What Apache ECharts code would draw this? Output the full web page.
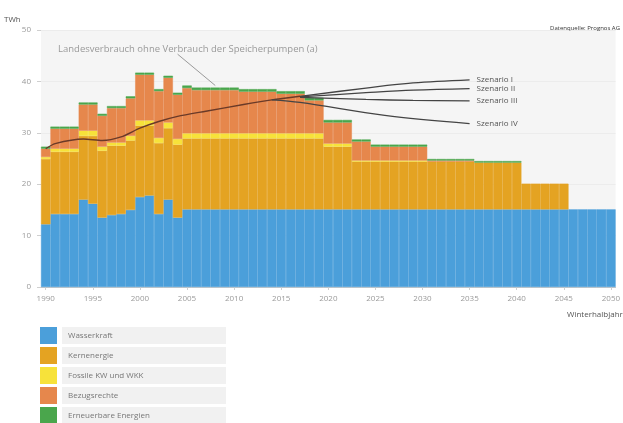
<!DOCTYPE html>
<html>
<head>
<meta charset="utf-8">
<script src="https://cdn.jsdelivr.net/npm/echarts@6/dist/echarts.min.js"></script>
<style>
  html, body { margin: 0; padding: 0; background: #fff; }
  #chart { width: 623px; height: 423px; }
</style>
</head>
<body>
<div id="chart"></div>
<script>
// Winterhalbjahr 1990 - 2050, one category per year
const years = [
  '1990','1991','1992','1993','1994','1995','1996','1997','1998','1999',
  '2000','2001','2002','2003','2004','2005','2006','2007','2008','2009',
  '2010','2011','2012','2013','2014','2015','2016','2017','2018','2019',
  '2020','2021','2022','2023','2024','2025','2026','2027','2028','2029',
  '2030','2031','2032','2033','2034','2035','2036','2037','2038','2039',
  '2040','2041','2042','2043','2044','2045','2046','2047','2048','2049',
  '2050'
];

// TWh per year (stacked)
const wasserkraft = [
  12.2, 14.2, 14.2, 14.2, 17.0, 16.2, 13.5, 14.0, 14.2, 15.0,
  17.5, 17.8, 14.2, 17.0, 13.5, 15.1, 15.1, 15.1, 15.1, 15.1,
  15.1, 15.1, 15.1, 15.1, 15.1, 15.1, 15.1, 15.1, 15.1, 15.1,
  15.1, 15.1, 15.1, 15.1, 15.1, 15.1, 15.1, 15.1, 15.1, 15.1,
  15.1, 15.1, 15.1, 15.1, 15.1, 15.1, 15.1, 15.1, 15.1, 15.1,
  15.1, 15.1, 15.1, 15.1, 15.1, 15.1, 15.1, 15.1, 15.1, 15.1,
  15.1
];
const kernenergie = [
  12.7, 12.1, 12.1, 12.1, 12.4, 13.2, 13.0, 13.5, 13.3, 13.5,
  13.9, 13.6, 13.8, 13.9, 14.2, 13.8, 13.8, 13.8, 13.8, 13.8,
  13.8, 13.8, 13.8, 13.8, 13.8, 13.8, 13.8, 13.8, 13.8, 13.8,
  12.2, 12.2, 12.2, 9.3, 9.3, 9.3, 9.3, 9.3, 9.3, 9.3,
  9.3, 9.3, 9.3, 9.3, 9.3, 9.3, 9.1, 9.1, 9.1, 9.1,
  9.1, 5.0, 5.0, 5.0, 5.0, 5.0, 0, 0, 0, 0,
  0
];
const fossile = [
  0.4, 0.6, 0.6, 0.6, 1.0, 1.0, 0.8, 0.6, 0.6, 0.9,
  1.0, 1.0, 1.0, 1.1, 1.1, 1.0, 1.0, 1.0, 1.0, 1.0,
  1.0, 1.0, 1.0, 1.0, 1.0, 1.0, 1.0, 1.0, 1.0, 1.0,
  0.6, 0.6, 0.6, 0.2, 0.2, 0.2, 0.2, 0.2, 0.2, 0.2,
  0.2, 0, 0, 0, 0, 0, 0, 0, 0, 0,
  0, 0, 0, 0, 0, 0, 0, 0, 0, 0,
  0
];
const bezugsrechte = [
  1.6, 3.9, 3.9, 3.9, 5.1, 5.1, 6.0, 6.7, 6.7, 7.3,
  8.9, 8.9, 9.1, 8.7, 8.6, 8.8, 8.4, 8.4, 8.4, 8.4,
  8.4, 8.1, 8.1, 8.1, 8.1, 7.7, 7.7, 7.7, 6.4, 6.4,
  4.1, 4.1, 4.1, 3.7, 3.7, 2.7, 2.7, 2.7, 2.7, 2.7,
  2.7, 0.2, 0.2, 0.2, 0.2, 0.2, 0, 0, 0, 0,
  0, 0, 0, 0, 0, 0, 0, 0, 0, 0,
  0
];
const erneuerbare = [
  0.4, 0.4, 0.4, 0.4, 0.4, 0.4, 0.4, 0.4, 0.4, 0.4,
  0.4, 0.4, 0.4, 0.4, 0.4, 0.5, 0.5, 0.5, 0.5, 0.5,
  0.5, 0.5, 0.5, 0.5, 0.5, 0.5, 0.5, 0.5, 0.5, 0.5,
  0.5, 0.5, 0.5, 0.4, 0.4, 0.4, 0.4, 0.4, 0.4, 0.4,
  0.4, 0.3, 0.3, 0.3, 0.3, 0.3, 0.3, 0.3, 0.3, 0.3,
  0.3, 0, 0, 0, 0, 0, 0, 0, 0, 0,
  0
];

// Landesverbrauch ohne Speicherpumpen (a)
const verbrauchYears = ['1990','1991','1994','1996','1998','2000','2002','2004','2007','2011','2014','2017'];
const verbrauch = [26.9, 27.9, 28.8, 28.5, 29.2, 30.9, 32.2, 33.2, 34.2, 35.5, 36.4, 37.1];

// Szenarien I - IV
const szenarioYears = ['2017', '2024', '2029', '2035'];
const szenarioI = [37.1, 38.7, 39.7, 40.3];
const szenarioII = [37.0, 37.8, 38.3, 38.6];
const szenarioIII = [36.9, 36.5, 36.3, 36.2];
const szenarioIVYears = ['2014', '2017', '2026', '2035'];
const szenarioIV = [36.4, 35.9, 33.4, 31.8];

const yTicks = [0, 10, 20, 30, 40, 50];

const FONT = 'Open Sans, DejaVu Sans, sans-serif';

function area(name, data, color) {
  return {
    name: name,
    type: 'bar',
    stack: 'angebot',
    // empty years are left out so the thin border does not draw a line
    data: data.map(v => (v === 0 ? '-' : v)),
    barCategoryGap: '0%',
    itemStyle: { color: color, borderColor: color, borderWidth: 0.5 },
    emphasis: { disabled: true },
    z: 2
  };
}

function szenario(label, xs, ys) {
  return {
    name: label,
    type: 'line',
    data: xs.map((x, i) => [x, ys[i]]),
    smooth: 0.35,
    symbol: 'none',
    lineStyle: { color: '#444', width: 1.3 },
    endLabel: { show: true, formatter: label, color: '#555', fontSize: 8, fontFamily: FONT, distance: 7 },
    emphasis: { disabled: true },
    z: 5
  };
}

const chart = echarts.init(document.getElementById('chart'));

chart.setOption({
  animation: false,
  backgroundColor: '#fff',
  textStyle: { fontFamily: FONT },
  grid: {
    left: 41, right: 2.5, top: 30, bottom: 136,
    show: true, backgroundColor: '#f5f5f5', borderWidth: 0
  },
  legend: {
    data: ['Wasserkraft', 'Kernenergie', 'Fossile KW und WKK', 'Bezugsrechte', 'Erneuerbare Energien'],
    orient: 'vertical',
    left: 40, top: 327, height: 140, padding: 0,
    icon: 'rect',
    itemWidth: 17, itemHeight: 17, itemGap: 3,
    itemStyle: { borderWidth: 0 },
    selectedMode: false,
    textStyle: {
      fontSize: 8, color: '#777', fontFamily: FONT,
      backgroundColor: '#f1f1f1', width: 152, height: 13, lineHeight: 13, padding: [2, 6]
    }
  },
  xAxis: {
    type: 'category',
    data: years,
    boundaryGap: true,
    axisLine: { lineStyle: { color: '#c8c8c8' } },
    axisTick: { show: true, alignWithLabel: true, interval: 4, length: 3, lineStyle: { color: '#cfcfcf' } },
    axisLabel: { interval: 4, fontSize: 8, color: '#9a9a9a', margin: 8 }
  },
  yAxis: {
    type: 'value',
    min: yTicks[0], max: yTicks[yTicks.length - 1], interval: 10,
    axisLine: { show: false },
    axisTick: { show: true, length: 4, lineStyle: { color: '#cfcfcf' } },
    axisLabel: { fontSize: 8, color: '#9a9a9a', margin: 10 },
    splitLine: { lineStyle: { color: '#ececec' } }
  },
  series: [
    area('Wasserkraft', wasserkraft, '#4b9fda'),
    area('Kernenergie', kernenergie, '#e4a322'),
    area('Fossile KW und WKK', fossile, '#f7e23a'),
    area('Bezugsrechte', bezugsrechte, '#e6874c'),
    area('Erneuerbare Energien', erneuerbare, '#4aa64c'),
    {
      name: 'Landesverbrauch',
      type: 'line',
      data: verbrauchYears.map((x, i) => [x, verbrauch[i]]),
      smooth: 0.25,
      symbol: 'none',
      lineStyle: { color: '#6a3a28', width: 1.4 },
      emphasis: { disabled: true },
      z: 5
    },
    szenario('Szenario I', szenarioYears, szenarioI),
    szenario('Szenario II', szenarioYears, szenarioII),
    szenario('Szenario III', szenarioYears, szenarioIII),
    szenario('Szenario IV', szenarioIVYears, szenarioIV)
  ]
});

// annotation + leader line, anchored in data space
const p0 = chart.convertToPixel({ xAxisIndex: 0, yAxisIndex: 0 }, [13.6, 45.3]);
const p1 = chart.convertToPixel({ xAxisIndex: 0, yAxisIndex: 0 }, [17.6, 39.2]);

chart.setOption({
  graphic: [
    { type: 'text', left: 4, top: 16, style: { text: 'TWh', fontSize: 8, fill: '#555', fontFamily: FONT } },
    { type: 'text', right: 3, top: 25, style: { text: 'Datenquelle: Prognos AG', fontSize: 6, fill: '#333', fontFamily: FONT } },
    { type: 'text', left: 58, top: 44, style: { text: 'Landesverbrauch ohne Verbrauch der Speicherpumpen (a)', fontSize: 9.5, fill: '#9a9a9a', fontFamily: FONT } },
    { type: 'line', shape: { x1: p0[0], y1: p0[1], x2: p1[0], y2: p1[1] }, style: { stroke: '#9a9a9a', lineWidth: 1 }, z: 10 },
    { type: 'text', left: 567, top: 311, style: { text: 'Winterhalbjahr', fontSize: 8, fill: '#555', fontFamily: FONT } }
  ]
});
</script>
</body>
</html>
